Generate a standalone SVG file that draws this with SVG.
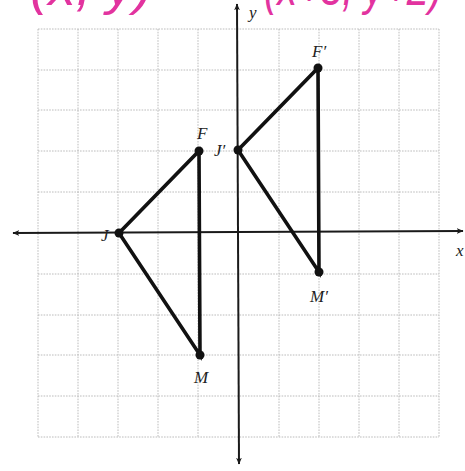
<svg xmlns="http://www.w3.org/2000/svg" width="465" height="471" viewBox="0 0 465 471">
<style>
.grid line{stroke:#b4b4b4;stroke-width:0.9;stroke-dasharray:1.6 1.2}
.axis{stroke:#1a1a1a;stroke-width:2;fill:none}
.seg{stroke:#111;stroke-width:3.6;fill:none;stroke-linecap:round}
.pt{fill:#111}
.lbl{font-family:"Liberation Serif",serif;font-style:italic;font-size:17px;fill:#222}
.hand{font-family:"Liberation Sans",sans-serif;font-style:italic;font-size:50px;fill:#e2339f}
</style>
<defs>
<marker id="ah" viewBox="0 0 12 10" refX="11" refY="5" markerWidth="7" markerHeight="6" orient="auto" markerUnits="userSpaceOnUse">
<path d="M0,0 L12,5 L0,10 L3.5,5 z" fill="#1a1a1a"/>
</marker>
</defs>
<rect width="465" height="471" fill="#fff"/>
<g id="handwriting">
<text class="hand" x="30" y="5" textLength="122" lengthAdjust="spacingAndGlyphs">(x, y)</text>
<text class="hand" x="264" y="5" textLength="178" lengthAdjust="spacingAndGlyphs">(x+3, y+2)</text>
</g>
<g class="grid" id="grid">
<line x1="38" y1="29" x2="38" y2="437"/>
<line x1="78" y1="29" x2="78" y2="437"/>
<line x1="118" y1="29" x2="118" y2="437"/>
<line x1="158" y1="29" x2="158" y2="437"/>
<line x1="198" y1="29" x2="198" y2="437"/>
<line x1="279" y1="29" x2="279" y2="437"/>
<line x1="319" y1="29" x2="319" y2="437"/>
<line x1="359" y1="29" x2="359" y2="437"/>
<line x1="399" y1="29" x2="399" y2="437"/>
<line x1="439" y1="29" x2="439" y2="437"/>
<line x1="38" y1="29" x2="439" y2="29"/>
<line x1="38" y1="70" x2="439" y2="70"/>
<line x1="38" y1="110" x2="439" y2="110"/>
<line x1="38" y1="151" x2="439" y2="151"/>
<line x1="38" y1="192" x2="439" y2="192"/>
<line x1="38" y1="274" x2="439" y2="274"/>
<line x1="38" y1="315" x2="439" y2="315"/>
<line x1="38" y1="355" x2="439" y2="355"/>
<line x1="38" y1="396" x2="439" y2="396"/>
<line x1="38" y1="437" x2="439" y2="437"/>
</g>
<g id="axes">
<line class="axis" x1="238" y1="232" x2="13" y2="233" marker-end="url(#ah)"/>
<line class="axis" x1="238" y1="232" x2="463" y2="231" marker-end="url(#ah)"/>
<line class="axis" x1="238" y1="232" x2="237" y2="4" marker-end="url(#ah)"/>
<line class="axis" x1="238" y1="232" x2="239" y2="464" marker-end="url(#ah)"/>
<text class="lbl" x="249" y="18" font-size="13">y</text>
<text class="lbl" x="456" y="256" font-size="14">x</text>
</g>
<g id="connectors">
<polyline class="seg" points="119,233 199,151 200,355 119,233"/>
<polyline class="seg" points="238,150 318,68 319,272 238,150"/>
</g>
<g id="node-J"><circle class="pt" cx="119" cy="233" r="4.5"/><text class="lbl" x="101" y="241">J</text></g>
<g id="node-F"><circle class="pt" cx="199" cy="151" r="4.5"/><text class="lbl" x="197" y="139">F</text></g>
<g id="node-M"><circle class="pt" cx="200" cy="355" r="4.5"/><text class="lbl" x="194" y="383">M</text></g>
<g id="node-J-prime"><circle class="pt" cx="238" cy="150" r="4.5"/><text class="lbl" x="214" y="156">J′</text></g>
<g id="node-F-prime"><circle class="pt" cx="318" cy="68" r="4.5"/><text class="lbl" x="312" y="57">F′</text></g>
<g id="node-M-prime"><circle class="pt" cx="319" cy="272" r="4.5"/><text class="lbl" x="310" y="302">M′</text></g>
</svg>
